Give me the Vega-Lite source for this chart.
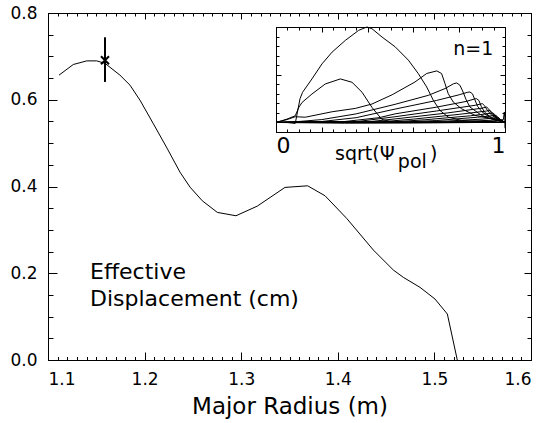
{
  "$schema": "https://vega.github.io/schema/vega-lite/v6.json",
  "width": 483,
  "height": 347,
  "autosize": {"type": "none"},
  "padding": {"left": 48, "top": 13, "right": 11, "bottom": 63},
  "background": "white",
  "config": {
    "view": {"stroke": null},
    "axis": {
      "domainColor": "black",
      "tickColor": "black",
      "labelColor": "black",
      "labelFont": "DejaVu Sans",
      "titleFont": "DejaVu Sans",
      "titleColor": "black",
      "titleFontWeight": "normal",
      "grid": false
    }
  },
  "datasets": {
    "profile": [
      {"R": 1.1114, "disp": 0.6567},
      {"R": 1.1262, "disp": 0.6813},
      {"R": 1.1401, "disp": 0.6896},
      {"R": 1.1504, "disp": 0.6896},
      {"R": 1.159, "disp": 0.684},
      {"R": 1.1745, "disp": 0.6567},
      {"R": 1.1849, "disp": 0.6336},
      {"R": 1.1952, "disp": 0.5991},
      {"R": 1.2087, "disp": 0.5461},
      {"R": 1.2232, "disp": 0.4885},
      {"R": 1.2366, "disp": 0.4332},
      {"R": 1.247, "disp": 0.3986},
      {"R": 1.2597, "disp": 0.3671},
      {"R": 1.2753, "disp": 0.3403},
      {"R": 1.2946, "disp": 0.3325},
      {"R": 1.3167, "disp": 0.3548},
      {"R": 1.3453, "disp": 0.3979},
      {"R": 1.3688, "disp": 0.4016},
      {"R": 1.3868, "disp": 0.3786},
      {"R": 1.4092, "disp": 0.3265},
      {"R": 1.4368, "disp": 0.2535},
      {"R": 1.4575, "disp": 0.2074},
      {"R": 1.4678, "disp": 0.1906},
      {"R": 1.4851, "disp": 0.1675},
      {"R": 1.5006, "disp": 0.1406},
      {"R": 1.5134, "disp": 0.106},
      {"R": 1.5237, "disp": 0.0}
    ],
    "marker": [
      {"R": 1.159, "disp": 0.691, "lo": 0.641, "hi": 0.744}
    ],
    "note": [
      {"R": 1.1435, "disp": 0.186, "label": "Effective\nDisplacement (cm)"}
    ],
    "modesLow": [
      {"m": 1, "s": 0, "amp": 0}, {"m": 1, "s": 0.05, "amp": 0.0}, {"m": 1, "s": 0.084, "amp": -0.01}, {"m": 1, "s": 0.093, "amp": 0.1}, {"m": 1, "s": 0.105, "amp": 0.25}, {"m": 1, "s": 0.116, "amp": 0.316}, {"m": 1, "s": 0.157, "amp": 0.456}, {"m": 1, "s": 0.201, "amp": 0.614}, {"m": 1, "s": 0.245, "amp": 0.737}, {"m": 1, "s": 0.303, "amp": 0.86}, {"m": 1, "s": 0.361, "amp": 0.965}, {"m": 1, "s": 0.397, "amp": 1.0}, {"m": 1, "s": 0.419, "amp": 0.982}, {"m": 1, "s": 0.463, "amp": 0.895}, {"m": 1, "s": 0.52, "amp": 0.793}, {"m": 1, "s": 0.578, "amp": 0.653}, {"m": 1, "s": 0.621, "amp": 0.513}, {"m": 1, "s": 0.658, "amp": 0.372}, {"m": 1, "s": 0.687, "amp": 0.232}, {"m": 1, "s": 0.716, "amp": 0.126}, {"m": 1, "s": 0.752, "amp": 0.056}, {"m": 1, "s": 0.81, "amp": 0.021}, {"m": 1, "s": 0.9, "amp": 0.008}, {"m": 1, "s": 1.0, "amp": 0},
      {"m": 2, "s": 0, "amp": 0}, {"m": 2, "s": 0.048, "amp": 0.035}, {"m": 2, "s": 0.084, "amp": 0.07}, {"m": 2, "s": 0.1, "amp": 0.16}, {"m": 2, "s": 0.114, "amp": 0.21}, {"m": 2, "s": 0.157, "amp": 0.298}, {"m": 2, "s": 0.215, "amp": 0.403}, {"m": 2, "s": 0.281, "amp": 0.456}, {"m": 2, "s": 0.332, "amp": 0.421}, {"m": 2, "s": 0.376, "amp": 0.316}, {"m": 2, "s": 0.419, "amp": 0.158}, {"m": 2, "s": 0.463, "amp": 0.03}, {"m": 2, "s": 0.52, "amp": 0.0}, {"m": 2, "s": 1.0, "amp": 0},
      {"m": 3, "s": 0, "amp": 0}, {"m": 3, "s": 0.048, "amp": 0.03}, {"m": 3, "s": 0.084, "amp": 0.06}, {"m": 3, "s": 0.128, "amp": 0.055}, {"m": 3, "s": 0.245, "amp": 0.112}, {"m": 3, "s": 0.346, "amp": 0.147}, {"m": 3, "s": 0.419, "amp": 0.193}, {"m": 3, "s": 0.507, "amp": 0.29}, {"m": 3, "s": 0.607, "amp": 0.424}, {"m": 3, "s": 0.658, "amp": 0.513}, {"m": 3, "s": 0.702, "amp": 0.54}, {"m": 3, "s": 0.723, "amp": 0.513}, {"m": 3, "s": 0.738, "amp": 0.407}, {"m": 3, "s": 0.752, "amp": 0.302}, {"m": 3, "s": 0.774, "amp": 0.214}, {"m": 3, "s": 0.81, "amp": 0.144}, {"m": 3, "s": 0.869, "amp": 0.074}, {"m": 3, "s": 0.94, "amp": 0.039}, {"m": 3, "s": 1.0, "amp": 0}
    ],
    "modesHigh": [
      {"m": 4, "s": 0, "amp": 0}, {"m": 4, "s": 0.1, "amp": 0.01}, {"m": 4, "s": 0.2, "amp": 0.03}, {"m": 4, "s": 0.35, "amp": 0.09}, {"m": 4, "s": 0.52, "amp": 0.19}, {"m": 4, "s": 0.665, "amp": 0.284}, {"m": 4, "s": 0.738, "amp": 0.355}, {"m": 4, "s": 0.775, "amp": 0.405}, {"m": 4, "s": 0.789, "amp": 0.414}, {"m": 4, "s": 0.803, "amp": 0.39}, {"m": 4, "s": 0.815, "amp": 0.33}, {"m": 4, "s": 0.83, "amp": 0.24}, {"m": 4, "s": 0.847, "amp": 0.161}, {"m": 4, "s": 0.898, "amp": 0.074}, {"m": 4, "s": 0.95, "amp": 0.03}, {"m": 4, "s": 1.0, "amp": 0},
      {"m": 5, "s": 0, "amp": 0}, {"m": 5, "s": 0.2, "amp": 0.01}, {"m": 5, "s": 0.35, "amp": 0.05}, {"m": 5, "s": 0.52, "amp": 0.14}, {"m": 5, "s": 0.7, "amp": 0.23}, {"m": 5, "s": 0.8, "amp": 0.29}, {"m": 5, "s": 0.835, "amp": 0.315}, {"m": 5, "s": 0.847, "amp": 0.319}, {"m": 5, "s": 0.858, "amp": 0.3}, {"m": 5, "s": 0.868, "amp": 0.24}, {"m": 5, "s": 0.88, "amp": 0.17}, {"m": 5, "s": 0.9, "amp": 0.11}, {"m": 5, "s": 0.93, "amp": 0.06}, {"m": 5, "s": 1.0, "amp": 0},
      {"m": 6, "s": 0, "amp": 0}, {"m": 6, "s": 0.3, "amp": 0.01}, {"m": 6, "s": 0.45, "amp": 0.05}, {"m": 6, "s": 0.52, "amp": 0.09}, {"m": 6, "s": 0.7, "amp": 0.16}, {"m": 6, "s": 0.83, "amp": 0.22}, {"m": 6, "s": 0.865, "amp": 0.245}, {"m": 6, "s": 0.876, "amp": 0.249}, {"m": 6, "s": 0.886, "amp": 0.23}, {"m": 6, "s": 0.896, "amp": 0.17}, {"m": 6, "s": 0.91, "amp": 0.11}, {"m": 6, "s": 0.94, "amp": 0.05}, {"m": 6, "s": 1.0, "amp": 0},
      {"m": 7, "s": 0, "amp": 0}, {"m": 7, "s": 0.35, "amp": 0.008}, {"m": 7, "s": 0.52, "amp": 0.06}, {"m": 7, "s": 0.7, "amp": 0.12}, {"m": 7, "s": 0.87, "amp": 0.18}, {"m": 7, "s": 0.901, "amp": 0.197}, {"m": 7, "s": 0.911, "amp": 0.175}, {"m": 7, "s": 0.922, "amp": 0.13}, {"m": 7, "s": 0.94, "amp": 0.08}, {"m": 7, "s": 0.97, "amp": 0.03}, {"m": 7, "s": 1.0, "amp": 0},
      {"m": 8, "s": 0, "amp": 0}, {"m": 8, "s": 0.4, "amp": 0.006}, {"m": 8, "s": 0.55, "amp": 0.045}, {"m": 8, "s": 0.75, "amp": 0.1}, {"m": 8, "s": 0.9, "amp": 0.15}, {"m": 8, "s": 0.92, "amp": 0.161}, {"m": 8, "s": 0.929, "amp": 0.14}, {"m": 8, "s": 0.94, "amp": 0.1}, {"m": 8, "s": 0.96, "amp": 0.05}, {"m": 8, "s": 0.98, "amp": 0.02}, {"m": 8, "s": 1.0, "amp": 0},
      {"m": 9, "s": 0, "amp": 0}, {"m": 9, "s": 0.45, "amp": 0.005}, {"m": 9, "s": 0.6, "amp": 0.035}, {"m": 9, "s": 0.8, "amp": 0.085}, {"m": 9, "s": 0.92, "amp": 0.12}, {"m": 9, "s": 0.934, "amp": 0.126}, {"m": 9, "s": 0.943, "amp": 0.105}, {"m": 9, "s": 0.955, "amp": 0.07}, {"m": 9, "s": 0.975, "amp": 0.03}, {"m": 9, "s": 1.0, "amp": 0},
      {"m": 10, "s": 0, "amp": 0}, {"m": 10, "s": 0.5, "amp": 0.004}, {"m": 10, "s": 0.65, "amp": 0.028}, {"m": 10, "s": 0.85, "amp": 0.07}, {"m": 10, "s": 0.938, "amp": 0.096}, {"m": 10, "s": 0.948, "amp": 0.1}, {"m": 10, "s": 0.956, "amp": 0.08}, {"m": 10, "s": 0.968, "amp": 0.05}, {"m": 10, "s": 0.985, "amp": 0.02}, {"m": 10, "s": 1.0, "amp": 0}
    ],
    "modesTail": [
      {"m": 11, "s": 0, "amp": 0}, {"m": 11, "s": 0.55, "amp": 0.003}, {"m": 11, "s": 0.7, "amp": 0.02}, {"m": 11, "s": 0.88, "amp": 0.055}, {"m": 11, "s": 0.952, "amp": 0.072}, {"m": 11, "s": 0.96, "amp": 0.074}, {"m": 11, "s": 0.968, "amp": 0.058}, {"m": 11, "s": 0.98, "amp": 0.03}, {"m": 11, "s": 1.0, "amp": 0},
      {"m": 12, "s": 0, "amp": 0}, {"m": 12, "s": 0.6, "amp": 0.002}, {"m": 12, "s": 0.75, "amp": 0.015}, {"m": 12, "s": 0.9, "amp": 0.035}, {"m": 12, "s": 0.964, "amp": 0.049}, {"m": 12, "s": 0.97, "amp": 0.05}, {"m": 12, "s": 0.978, "amp": 0.035}, {"m": 12, "s": 0.99, "amp": 0.015}, {"m": 12, "s": 1.0, "amp": 0},
      {"m": 13, "s": 0, "amp": 0}, {"m": 13, "s": 0.65, "amp": 0.002}, {"m": 13, "s": 0.8, "amp": 0.01}, {"m": 13, "s": 0.93, "amp": 0.022}, {"m": 13, "s": 0.976, "amp": 0.03}, {"m": 13, "s": 0.982, "amp": 0.025}, {"m": 13, "s": 0.992, "amp": 0.01}, {"m": 13, "s": 1.0, "amp": 0},
      {"m": 14, "s": 0, "amp": 0}, {"m": 14, "s": 0.7, "amp": 0.001}, {"m": 14, "s": 0.85, "amp": 0.006}, {"m": 14, "s": 0.95, "amp": 0.014}, {"m": 14, "s": 0.988, "amp": 0.02}, {"m": 14, "s": 0.995, "amp": 0.01}, {"m": 14, "s": 1.0, "amp": 0},
      {"m": 15, "s": 0, "amp": 0}, {"m": 15, "s": 0.8, "amp": 0.002}, {"m": 15, "s": 0.95, "amp": 0.01}, {"m": 15, "s": 0.993, "amp": 0.03}, {"m": 15, "s": 0.997, "amp": 0.11}, {"m": 15, "s": 0.999, "amp": 0.05}, {"m": 15, "s": 1.0, "amp": -0.06},
      {"m": 16, "s": 0, "amp": 0}, {"m": 16, "s": 0.3, "amp": -0.008}, {"m": 16, "s": 0.6, "amp": -0.006}, {"m": 16, "s": 0.9, "amp": 0.0}, {"m": 16, "s": 1.0, "amp": 0},
      {"m": 17, "s": 0, "amp": 0}, {"m": 17, "s": 0.5, "amp": 0.004}, {"m": 17, "s": 1.0, "amp": 0}
    ],
    "insetTitle": [
      {"s": 0.258, "amp": -0.393, "t": "sqrt(Ψ"},
      {"s": 0.532, "amp": -0.477, "t": "pol"},
      {"s": 0.672, "amp": -0.393, "t": ")"}
    ],
    "insetTag": [
      {"s": 0.774, "amp": 0.704, "t": "n=1"}
    ]
  },
  "layer": [
    {
      "layer": [
        {
          "data": {"name": "profile"},
          "mark": {"type": "line", "color": "black", "strokeWidth": 1},
          "encoding": {
            "x": {
              "field": "R", "type": "quantitative",
              "scale": {"domain": [1.1, 1.6], "nice": false, "zero": false},
              "axis": {
                "orient": "bottom", "tickCount": 5, "tickSize": -8, "format": ".1f",
                "labelFontSize": 17, "labelPadding": 19,
                "title": "Major Radius (m)", "titleFontSize": 23, "titleY": 53, "titleBaseline": "alphabetic"
              }
            },
            "y": {
              "field": "disp", "type": "quantitative",
              "scale": {"domain": [0, 0.8], "nice": false, "zero": false},
              "axis": {"orient": "left", "tickCount": 4, "tickSize": -9, "format": ".1f", "labelFontSize": 17, "labelPadding": 20, "title": null}
            }
          }
        },
        {
          "data": {"name": "marker"},
          "mark": {"type": "rule", "color": "black", "strokeWidth": 2},
          "encoding": {
            "x": {
              "field": "R", "type": "quantitative",
              "scale": {"domain": [1.1, 1.6], "nice": false, "zero": false},
              "axis": {"orient": "top", "tickCount": 5, "tickSize": -6, "labels": false, "title": null}
            },
            "y": {
              "field": "lo", "type": "quantitative",
              "scale": {"domain": [0, 0.8], "nice": false, "zero": false},
              "axis": {"orient": "right", "tickCount": 4, "tickSize": -7, "labels": false, "title": null}
            },
            "y2": {"field": "hi"}
          }
        },
        {
          "data": {"name": "marker"},
          "mark": {"type": "point", "shape": "M-1,-1L1,1M1,-1L-1,1", "size": 64, "filled": false, "stroke": "black", "strokeWidth": 2, "opacity": 1},
          "encoding": {
            "x": {
              "field": "R", "type": "quantitative",
              "scale": {"domain": [1.1, 1.6], "nice": false, "zero": false},
              "axis": {"orient": "bottom", "tickCount": 50, "tickSize": -3.5, "domain": false, "labels": false, "title": null}
            },
            "y": {
              "field": "disp", "type": "quantitative",
              "scale": {"domain": [0, 0.8], "nice": false, "zero": false},
              "axis": {"orient": "left", "tickCount": 16, "tickSize": -5, "domain": false, "labels": false, "title": null}
            }
          }
        },
        {
          "data": {"name": "note"},
          "mark": {"type": "text", "align": "left", "baseline": "alphabetic", "font": "DejaVu Sans", "fontSize": 22, "lineBreak": "\n", "lineHeight": 26.7, "color": "black"},
          "encoding": {
            "x": {
              "field": "R", "type": "quantitative",
              "scale": {"domain": [1.1, 1.6], "nice": false, "zero": false},
              "axis": {"orient": "top", "tickCount": 50, "tickSize": -3, "domain": false, "labels": false, "title": null}
            },
            "y": {
              "field": "disp", "type": "quantitative",
              "scale": {"domain": [0, 0.8], "nice": false, "zero": false},
              "axis": {"orient": "right", "tickCount": 16, "tickSize": -4, "domain": false, "labels": false, "title": null}
            },
            "text": {"field": "label"}
          }
        }
      ],
      "resolve": {"axis": {"x": "independent", "y": "independent"}}
    },
    {
      "layer": [
        {
          "data": {"name": "modesLow"},
          "mark": {"type": "line", "color": "black", "strokeWidth": 1},
          "encoding": {
            "x": {
              "field": "s", "type": "quantitative",
              "scale": {"domain": [0, 1], "range": [228, 457], "nice": false, "zero": false},
              "axis": {"orient": "bottom", "offset": -228, "tickCount": 5, "tickSize": -5, "labels": false, "title": null}
            },
            "y": {
              "field": "amp", "type": "quantitative",
              "scale": {"domain": [-0.1, 1], "range": [119, 14], "nice": false, "zero": false},
              "axis": {"orient": "left", "offset": -228, "tickCount": 2, "tickSize": -5, "labels": false, "title": null}
            },
            "detail": {"field": "m", "type": "nominal"}
          }
        },
        {
          "data": {"name": "modesHigh"},
          "mark": {"type": "line", "color": "black", "strokeWidth": 1},
          "encoding": {
            "x": {
              "field": "s", "type": "quantitative",
              "scale": {"domain": [0, 1], "range": [228, 457], "nice": false, "zero": false},
              "axis": {"orient": "top", "offset": -14, "tickCount": 5, "tickSize": -5, "labels": false, "title": null}
            },
            "y": {
              "field": "amp", "type": "quantitative",
              "scale": {"domain": [-0.1, 1], "range": [119, 14], "nice": false, "zero": false},
              "axis": {"orient": "right", "offset": -26, "tickCount": 2, "tickSize": -5, "labels": false, "title": null}
            },
            "detail": {"field": "m", "type": "nominal"}
          }
        },
        {
          "data": {"name": "modesTail"},
          "mark": {"type": "line", "color": "black", "strokeWidth": 1},
          "encoding": {
            "x": {
              "field": "s", "type": "quantitative",
              "scale": {"domain": [0, 1], "range": [228, 457], "nice": false, "zero": false},
              "axis": {"orient": "bottom", "offset": -228, "tickCount": 1, "format": "d", "domain": false, "ticks": false, "tickSize": 0, "labelFontSize": 22, "labelPadding": 3, "title": null}
            },
            "y": {
              "field": "amp", "type": "quantitative",
              "scale": {"domain": [-0.1, 1], "range": [119, 14], "nice": false, "zero": false},
              "axis": null
            },
            "detail": {"field": "m", "type": "nominal"}
          }
        },
        {
          "data": {"name": "insetTitle"},
          "mark": {"type": "text", "align": "left", "baseline": "alphabetic", "font": "DejaVu Sans", "fontSize": 19, "color": "black"},
          "encoding": {
            "x": {
              "field": "s", "type": "quantitative",
              "scale": {"domain": [0, 1], "range": [228, 457], "nice": false, "zero": false},
              "axis": {"orient": "bottom", "offset": -228, "tickCount": 20, "tickSize": -3, "domain": false, "labels": false, "title": null}
            },
            "y": {
              "field": "amp", "type": "quantitative",
              "scale": {"domain": [-0.1, 1], "range": [119, 14], "nice": false, "zero": false},
              "axis": {"orient": "left", "offset": -228, "tickCount": 11, "tickSize": -3, "domain": false, "labels": false, "title": null}
            },
            "text": {"field": "t"}
          }
        },
        {
          "data": {"name": "insetTag"},
          "mark": {"type": "text", "align": "left", "baseline": "alphabetic", "font": "DejaVu Sans", "fontSize": 19, "color": "black"},
          "encoding": {
            "x": {
              "field": "s", "type": "quantitative",
              "scale": {"domain": [0, 1], "range": [228, 457], "nice": false, "zero": false},
              "axis": {"orient": "top", "offset": -14, "tickCount": 20, "tickSize": -3, "domain": false, "labels": false, "title": null}
            },
            "y": {
              "field": "amp", "type": "quantitative",
              "scale": {"domain": [-0.1, 1], "range": [119, 14], "nice": false, "zero": false},
              "axis": {"orient": "right", "offset": -26, "tickCount": 11, "tickSize": -3, "domain": false, "labels": false, "title": null}
            },
            "text": {"field": "t"}
          }
        }
      ],
      "resolve": {"axis": {"x": "independent", "y": "independent"}}
    }
  ],
  "resolve": {
    "scale": {"x": "independent", "y": "independent"},
    "axis": {"x": "independent", "y": "independent"}
  }
}
